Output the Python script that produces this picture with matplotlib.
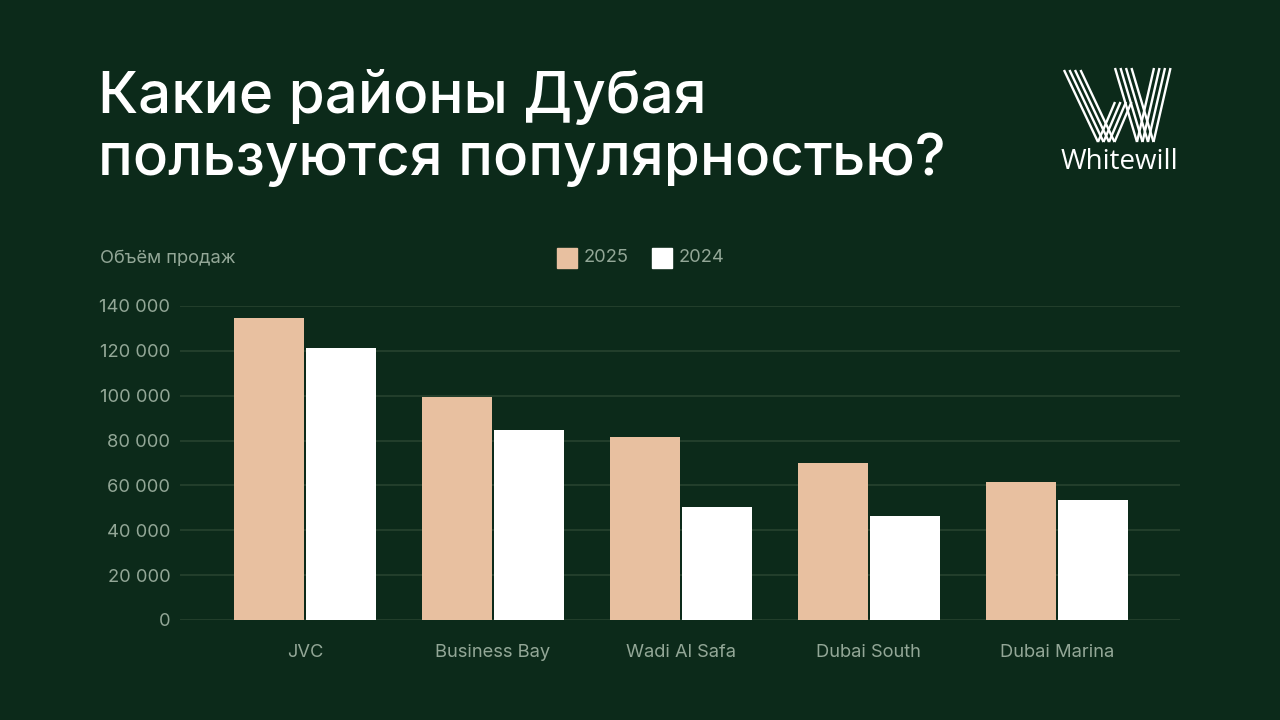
import numpy as np
import matplotlib.pyplot as plt
from matplotlib.patches import Rectangle

# data
districts = ["JVC", "Business Bay", "Wadi Al Safa", "Dubai South", "Dubai Marina"]
sales_2025 = [134600, 99400, 81500, 69900, 61500]
sales_2024 = [121300, 84800, 50200, 46500, 53400]
yticks = [0, 20000, 40000, 60000, 80000, 100000, 120000, 140000]
ytick_labels = ["0", "20 000", "40 000", "60 000", "80 000", "100 000", "120 000", "140 000"]

bg = "#0c2a1a"
peach = "#e8c0a0"
white = "#ffffff"
muted = "#93a797"
grid = "#27432f"

plt.rcParams["font.family"] = ["Inter", "DejaVu Sans"]

fig = plt.figure(figsize=(12.8, 7.2), dpi=100, facecolor=bg)
ax = fig.add_axes([180 / 1280, 1 - 620 / 720, 1000 / 1280, (620 - 306) / 720])
ax.set_facecolor(bg)

x = np.arange(len(districts))
w = 0.372
ax.bar(x - 0.19, sales_2025, width=w, color=peach, zorder=3)
ax.bar(x + 0.19, sales_2024, width=w, color=white, zorder=3)

ax.set_xlim(-0.665, 4.655)
ax.set_ylim(0, 140000)
ax.set_yticks(yticks)
ax.set_yticklabels(ytick_labels)
ax.set_xticks(x)
ax.set_xticklabels(districts)
ax.tick_params(axis="y", length=0, pad=7, labelsize=13.2, labelcolor=muted)
ax.tick_params(axis="x", length=0, pad=17, labelsize=13.2, labelcolor=muted)
for s in ax.spines.values():
    s.set_visible(False)
ax.yaxis.grid(True, color=grid, linewidth=1.2, zorder=0)
ax.set_axisbelow(True)

# overlay in pixel coordinates for title, labels, legend and logo
ov = fig.add_axes([0, 0, 1, 1], zorder=5)
ov.set_xlim(0, 1280)
ov.set_ylim(720, 0)
ov.axis("off")
ov.patch.set_alpha(0)

ov.text(98, 97, "Какие районы Дубая", color=white, fontsize=42, fontweight="medium",
        va="center", ha="left")
ov.text(98, 160, "пользуются популярностью?", color=white, fontsize=42, fontweight="medium",
        va="center", ha="left")

ov.text(100, 258, "Объём продаж", color=muted, fontsize=13.2, va="center", ha="left")

ov.add_patch(Rectangle((557, 248), 20, 20, color=peach))
ov.text(584, 258, "2025", color=muted, fontsize=13.2, va="center", ha="left")
ov.add_patch(Rectangle((652, 248), 20, 20, color=white))
ov.text(679, 258, "2024", color=muted, fontsize=13.2, va="center", ha="left")

# logo: striped W
strokes = [((1064, 70), (1098, 142)),
           ((1098, 142), (1115, 102)),
           ((1115, 68), (1137, 142)),
           ((1137, 142), (1154, 68))]
for (x0, y0), (x1, y1) in strokes:
    for k in range(4):
        d = k * 5.5
        ov.plot([x0 + d, x1 + d], [y0, y1], color=white, linewidth=1.7,
                solid_capstyle="butt")
ov.text(1119, 162, "Whitewill", color=white, fontsize=20, family=["Open Sans", "DejaVu Sans"],
        va="center", ha="center")

fig.savefig("out.png", dpi=100, facecolor=bg)
